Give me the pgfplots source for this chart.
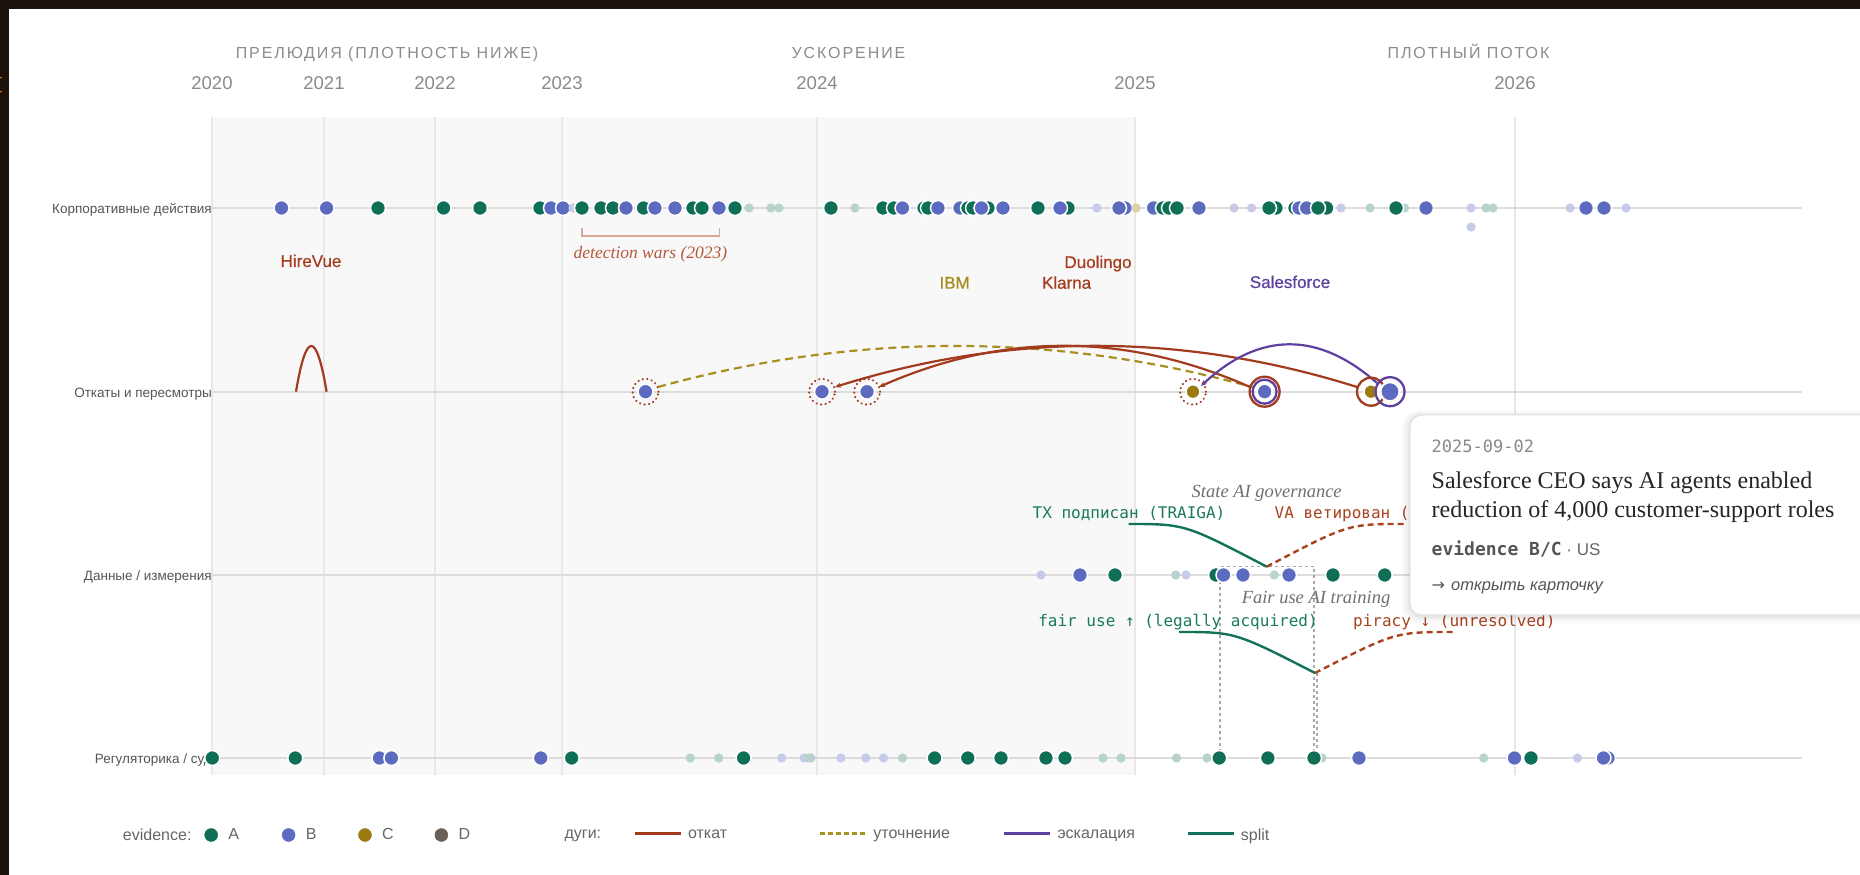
\documentclass[border=0pt]{standalone}
\usepackage{fontspec}
\setmainfont{Liberation Sans}
\newfontfamily\serif{Liberation Serif}
\newfontfamily\mono{DejaVu Sans Mono}
\newfontfamily\head[LetterSpace=12]{Liberation Sans}
\newfontfamily\lab[FakeBold=0.5]{Liberation Sans}
\newfontfamily\sym{DejaVu Sans}
\usepackage{pgfplots}
\usepackage{pgfplotstable}
\pgfplotsset{compat=1.18}
\usetikzlibrary{arrows.meta}

\definecolor{cA}{HTML}{0F6E56}
\definecolor{cB}{HTML}{5C6BC0}
\definecolor{cC}{HTML}{9C7A12}
\definecolor{cD}{HTML}{6B6058}
\definecolor{cRoll}{HTML}{A33B1E}
\definecolor{cRef}{HTML}{A88F20}
\definecolor{cEsc}{HTML}{5E40A0}
\definecolor{cSplit}{HTML}{13725A}
\definecolor{cHire}{HTML}{A63D20}
\definecolor{cIBM}{HTML}{A8891F}
\definecolor{cDet}{HTML}{B4583C}
\definecolor{cBrk}{HTML}{D8A898}
\definecolor{cHead}{HTML}{8C8C8C}
\definecolor{cYear}{HTML}{8A8A8A}
\definecolor{cRow}{HTML}{555555}
\definecolor{cLeg}{HTML}{666666}
\definecolor{cGridX}{HTML}{E8E8E8}
\definecolor{cGridY}{HTML}{DCDCDC}
\definecolor{cShade}{HTML}{F8F8F8}
\definecolor{cDark}{HTML}{1A120B}
\definecolor{cBox}{HTML}{E2E2E2}
\definecolor{cAnn}{HTML}{707070}
\definecolor{cDash}{HTML}{A8A8A8}
\definecolor{cMonoG}{HTML}{1A7A5E}
\definecolor{cMonoR}{HTML}{A8431F}

\newcommand\fs[1]{\fontsize{#1}{#1}\selectfont}

% x: position on the (warped) time axis, y: row height; ev: evidence class
% upper case = key event, lower case = minor event
\pgfplotstableread{
x y ev
281.5 667 B
326.6 667 B
378 667 A
443.6 667 A
480 667 A
540 667 A
551 667 B
563 667 B
573 667 b
582 667 A
601 667 A
613 667 A
626 667 B
643.5 667 A
655 667 B
675 667 B
693 667 A
702 667 A
719 667 B
735 667 A
749 667 a
771 667 a
779 667 a
831 667 A
855 667 a
883 667 A
894 667 A
902.5 667 B
924 667 A
928 667 A
938 667 B
960 667 B
968 667 A
973 667 A
988 667 A
981.5 667 B
1003 667 B
1038 667 A
1068 667 A
1060 667 B
1097 667 b
1125 667 B
1119 667 B
1136 667 c
1153.6 667 B
1163 667 A
1169 667 A
1177 667 A
1199 667 B
1234 667 b
1251.6 667 b
1276 667 A
1269 667 A
1295 667 A
1299 667 B
1306.6 667 B
1326.6 667 A
1318 667 A
1341 667 b
1370 667 a
1404.7 667 a
1396 667 A
1426 667 B
1471 667 b
1471 648 b
1486 667 a
1493 667 a
1570 667 b
1586 667 B
1604 667 B
1626 667 b
}\corp

\pgfplotstableread{
x y ev
1041 300 b
1080 300 B
1115 300 A
1175.7 300 a
1186 300 b
1216 300 A
1223.5 300 B
1243 300 B
1274.3 300 a
1289 300 B
1333 300 A
1384.7 300 A
}\data

\pgfplotstableread{
x y ev
212.3 117 A
295.3 117 A
379.5 117 B
391.4 117 B
540.8 117 B
571.7 117 A
690.3 117 a
718.7 117 a
743.6 117 A
781.6 117 b
804 117 b
808 117 a
811 117 a
840.9 117 b
865.8 117 b
883.5 117 b
902.5 117 a
934.6 117 A
967.8 117 A
1001 117 A
1046 117 A
1065 117 A
1103 117 a
1121 117 a
1176.5 117 a
1207 117 a
1219.2 117 A
1267.9 117 A
1322 117 a
1314 117 A
1359 117 B
1483.7 117 a
1514.5 117 B
1531 117 A
1577.4 117 b
1608 117 B
1603.5 117 B
}\reg

\pgfplotsset{
  dots/.style={scatter, only marks, forget plot, scatter src=explicit symbolic,
    scatter/classes={
      A={mark=*, mark size=7.5pt, draw=white, fill=cA, line width=1.5pt},
      B={mark=*, mark size=7.5pt, draw=white, fill=cB, line width=1.5pt},
      a={mark=*, mark size=4.5pt, draw=cA!30, fill=cA!30, line width=0.1pt},
      b={mark=*, mark size=4.5pt, draw=cB!35, fill=cB!35, line width=0.1pt},
      c={mark=*, mark size=4.5pt, draw=cC!35, fill=cC!35, line width=0.1pt}}},
  ring/.style={only marks, forget plot, mark=o, mark size=#1},
}

\begin{document}
\begin{tikzpicture}
\begin{axis}[
  at={(0pt,0pt)}, anchor=south west,
  scale only axis, width=1590pt, height=658pt,
  xmin=212, xmax=1802, ymin=100, ymax=758,
  clip=false, set layers,
  axis line style={draw=none}, tick style={draw=none}, major tick length=0pt,
  xtick={212,324,435,562,817,1135,1515},
  xticklabels={2020,2021,2022,2023,2024,2025,2026},
  xticklabel pos=upper,
  xticklabel style={font=\fs{18.5}, text=cYear, anchor=base, yshift=27.5pt, inner sep=0pt},
  ytick={117,300,483.3,667},
  yticklabels={Регуляторика / суд, Данные / измерения, Откаты и пересмотры, Корпоративные действия},
  yticklabel style={font=\fs{13.5}, text=cRow, anchor=east, inner sep=0pt, yshift=-2pt},
  xmajorgrids, ymajorgrids,
  major x grid style={draw=cGridX, line width=1.2pt},
  major y grid style={draw=cGridY, line width=1.8pt},
  legend columns=-1,
  legend cell align=left,
  legend style={at={(axis cs:123,40)}, anchor=west, draw=none, fill=none,
    inner sep=0pt, outer sep=0pt, font=\fs{16}, text=cLeg,
    nodes={inner sep=0pt, outer sep=0pt}, /tikz/column sep=0pt},
]
\begin{pgfonlayer}{axis background}
  \fill[cDark] (axis cs:0,0) rectangle (axis cs:1860,875);
  \fill[white] (axis cs:8.7,0) rectangle (axis cs:1860,866);
  \fill[cShade] (axis cs:212,100) rectangle (axis cs:1135,758);
\end{pgfonlayer}
\node[anchor=east, inner sep=0pt, text=orange!70!brown] at (axis cs:5,790) {\mono\fs{17}[};

% era headers
\node[anchor=base, inner sep=0pt, text=cHead] at (axis cs:387,816.2) {\head\fs{16}ПРЕЛЮДИЯ (ПЛОТНОСТЬ НИЖЕ)};
\node[anchor=base, inner sep=0pt, text=cHead] at (axis cs:848.5,816.2) {\head\fs{16}УСКОРЕНИЕ};
\node[anchor=base, inner sep=0pt, text=cHead] at (axis cs:1468.5,816.2) {\head\fs{16}ПЛОТНЫЙ ПОТОК};

% row 1
\addplot[dots] table[x=x, y=y, meta=ev] {\corp};

% labels between rows 1 and 2
\node[anchor=base, inner sep=0pt, text=cHire] at (axis cs:311,608) {\lab\fs{17}HireVue};
\node[anchor=base, inner sep=0pt, text=cHire] at (axis cs:1098,607) {\lab\fs{17}Duolingo};
\node[anchor=base, inner sep=0pt, text=cIBM] at (axis cs:954.6,586.3) {\lab\fs{17}IBM};
\node[anchor=base, inner sep=0pt, text=cHire] at (axis cs:1066.6,586.3) {\lab\fs{17}Klarna};
\node[anchor=base, inner sep=0pt, text=cEsc] at (axis cs:1290,587) {\lab\fs{17}Salesforce};
\draw[cBrk, line width=1.5pt] (axis cs:582,647) -- (axis cs:582,639) -- (axis cs:719.5,639) -- (axis cs:719.5,647);
\node[anchor=base, inner sep=0pt, text=cDet] at (axis cs:650.5,616) {\serif\itshape\fs{17.5}detection wars (2023)};

% row 2: arcs
\draw[cRoll, line width=2.2pt] (axis cs:296,483.3) .. controls (axis cs:306.2,544.3) and (axis cs:316.4,544.3) .. (axis cs:326.6,483.3);
\draw[cRef, line width=2.2pt, dash pattern=on 8pt off 5pt] (axis cs:658,488) .. controls (axis cs:856,542.7) and (axis cs:1054,542.7) .. (axis cs:1252,488);
\draw[cRoll, line width=2.2pt, {Stealth[length=6pt,width=5pt]}-] (axis cs:835,488) .. controls (axis cs:1009,542.7) and (axis cs:1183,542.7) .. (axis cs:1357,488);
\draw[cRoll, line width=2.2pt, {Stealth[length=6pt,width=5pt]}-] (axis cs:879,488) .. controls (axis cs:1002.7,542.7) and (axis cs:1126.3,542.7) .. (axis cs:1250,488);
\draw[cEsc, line width=2.2pt, {Stealth[length=6pt,width=5pt]}-] (axis cs:1201,489) .. controls (axis cs:1259.7,543.7) and (axis cs:1318.3,543.7) .. (axis cs:1377,492);

% row 2: events
\addplot[ring=13pt, mark options={draw=cRoll, line width=2.4pt, dash pattern=on 0.01pt off 4.6pt, line cap=round}]
  coordinates {(645.5,483.3) (822,483.3) (867,483.3) (1193,483.3)};
\addplot[ring=15pt, mark options={draw=cRoll, line width=2.3pt}] coordinates {(1264.6,483.3)};
\addplot[ring=12pt, mark options={draw=cEsc, line width=2.3pt}] coordinates {(1264.6,483.3)};
\addplot[only marks, forget plot, mark=*, mark size=7.5pt, mark options={draw=white, fill=cB, line width=1.5pt}]
  coordinates {(645.5,483.3) (822,483.3) (867,483.3) (1264.6,483.3)};
\addplot[only marks, forget plot, mark=*, mark size=7pt, mark options={draw=white, fill=cC, line width=1.5pt}]
  coordinates {(1193,483.3) (1371,483.3)};
\addplot[ring=14pt, mark options={draw=cRoll, line width=2.3pt}] coordinates {(1371,483.3)};
\addplot[only marks, forget plot, mark=*, mark size=9.5pt, mark options={draw=white, fill=cB, line width=2pt}]
  coordinates {(1390,483.3)};
\addplot[ring=14.5pt, mark options={draw=cEsc, line width=2.3pt}] coordinates {(1390,483.3)};

% row 3 and 4
\addplot[dots] table[x=x, y=y, meta=ev] {\data};
\addplot[dots] table[x=x, y=y, meta=ev] {\reg};

% fair use bracket
\draw[cDash, line width=1.2pt, dash pattern=on 3pt off 3pt] (axis cs:1220,117) -- (axis cs:1220,308.3) -- (axis cs:1314,308.3) -- (axis cs:1314,117);
\draw[cDash, line width=1.2pt, dash pattern=on 3pt off 3pt] (axis cs:1317,202) -- (axis cs:1317,117);

% splits
\node[anchor=base, inner sep=0pt, text=cAnn] at (axis cs:1266.7,377.5) {\serif\itshape\fs{18.5}State AI governance};
\node[anchor=base, inner sep=0pt, text=cMonoG] at (axis cs:1129,356.2) {\mono\fs{16}TX подписан (TRAIGA)};
\node[anchor=base west, inner sep=0pt, text=cMonoR] at (axis cs:1274.5,356.2) {\mono\fs{16}VA ветирован (HB 2094)};
\draw[cSplit, line width=2.4pt] (axis cs:1128.5,351) .. controls (axis cs:1185,351) .. (axis cs:1266.7,308.3);
\draw[cMonoR, line width=2.4pt, dash pattern=on 6pt off 4pt] (axis cs:1266.7,308.3) .. controls (axis cs:1348,351) .. (axis cs:1404,351);

\node[anchor=base, inner sep=0pt, text=cAnn] at (axis cs:1316,271) {\serif\itshape\fs{18.5}Fair use AI training};
\node[anchor=base, inner sep=0pt, text=cMonoG] at (axis cs:1178,248.5) {\mono\fs{16}fair use ↑ (legally acquired)};
\node[anchor=base west, inner sep=0pt, text=cMonoR] at (axis cs:1353,248.5) {\mono\fs{16}piracy ↓ (unresolved)};
\draw[cSplit, line width=2.4pt] (axis cs:1179,243) .. controls (axis cs:1235,243) .. (axis cs:1315,202);
\draw[cMonoR, line width=2.4pt, dash pattern=on 6pt off 4pt] (axis cs:1315,202) .. controls (axis cs:1395,243) .. (axis cs:1453,243);

% tooltip card
\fill[black, opacity=0.025, rounded corners=16pt] (axis cs:1402,252) rectangle (axis cs:1900,464);
\fill[black, opacity=0.03, rounded corners=14pt] (axis cs:1405,255) rectangle (axis cs:1900,462);
\fill[black, opacity=0.04, rounded corners=13pt] (axis cs:1408,257) rectangle (axis cs:1900,461);
\filldraw[fill=white, draw=cBox, line width=1pt, rounded corners=12pt] (axis cs:1410,260) rectangle (axis cs:1900,460);
\node[anchor=base west, inner sep=0pt, text=cYear] at (axis cs:1431.5,422.8) {\mono\fs{17}2025-09-02};
\node[anchor=base west, inner sep=0pt, text=black!85] at (axis cs:1431.5,386) {\serif\fs{24}Salesforce CEO says AI agents enabled};
\node[anchor=base west, inner sep=0pt, text=black!85] at (axis cs:1431.5,357.7) {\serif\fs{24}reduction of 4,000 customer-support roles};
\node[anchor=base west, inner sep=0pt, text=cRow] at (axis cs:1431.5,319) {{\mono\bfseries\fs{18}evidence B/C}{\fs{17}\color{cLeg}\ ·\ US}};
\node[anchor=base west, inner sep=0pt, text=cRow] at (axis cs:1431.5,284.5) {{\sym\fs{16}→}\hspace{6pt}{\itshape\fs{16.5}открыть карточку}};

% legend
\addlegendimage{legend image code/.code={}}
\addlegendentry{\makebox[81pt][l]{evidence:}}
\addlegendimage{legend image code/.code={\fill[cA] (7pt,0pt) circle (6.5pt);\path (0pt,0pt) (24pt,0pt);}}
\addlegendentry{\makebox[53pt][l]{A}}
\addlegendimage{legend image code/.code={\fill[cB] (7pt,0pt) circle (6.5pt);\path (0pt,0pt) (24pt,0pt);}}
\addlegendentry{\makebox[52pt][l]{B}}
\addlegendimage{legend image code/.code={\fill[cC] (7pt,0pt) circle (6.5pt);\path (0pt,0pt) (24pt,0pt);}}
\addlegendentry{\makebox[52pt][l]{C}}
\addlegendimage{legend image code/.code={\fill[cD] (7pt,0pt) circle (6.5pt);\path (0pt,0pt) (24pt,0pt);}}
\addlegendentry{\makebox[106pt][l]{D}}
\addlegendimage{legend image code/.code={}}
\addlegendentry{\makebox[69pt][l]{дуги:}}
\addlegendimage{legend image code/.code={\draw[cRoll, line width=2.5pt] (0pt,1.5pt) -- (46pt,1.5pt);\path (53pt,0pt);}}
\addlegendentry{\makebox[131pt][l]{откат}}
\addlegendimage{legend image code/.code={\draw[cRef, line width=2.5pt, dash pattern=on 5pt off 3pt] (0pt,1.5pt) -- (46pt,1.5pt);\path (53pt,0pt);}}
\addlegendentry{\makebox[129.6pt][l]{уточнение}}
\addlegendimage{legend image code/.code={\draw[cEsc, line width=2.5pt] (0pt,1.5pt) -- (46pt,1.5pt);\path (53pt,0pt);}}
\addlegendentry{\makebox[129pt][l]{эскалация}}
\addlegendimage{legend image code/.code={\draw[cSplit, line width=2.5pt] (0pt,1.5pt) -- (46pt,1.5pt);\path (53pt,0pt);}}
\addlegendentry{split}
\end{axis}
\pgfresetboundingbox
\path[use as bounding box] (-212pt,-100pt) rectangle (1648pt,775pt);
\end{tikzpicture}
\end{document}
